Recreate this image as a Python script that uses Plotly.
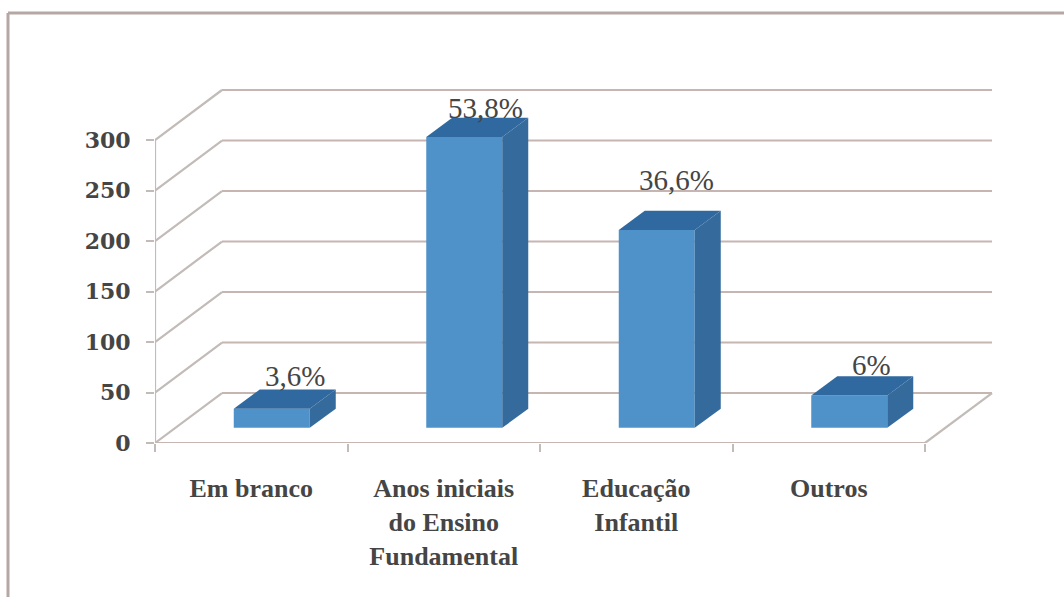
import plotly.graph_objects as go

# ---- data ----
categories = ["Em branco", "Anos iniciais<br>do Ensino<br>Fundamental", "Educação<br>Infantil", "Outros"]
values = [19, 288, 196, 32]
value_labels = ["3,6%", "53,8%", "36,6%", "6%"]
y_ticks = [0, 50, 100, 150, 200, 250, 300]

# ---- geometry in axis units ----
W, H = 1064, 597
L, R, T, B = 155, 995, 85, 443
X_PX = 192.5
Y_PX = 1.01
WALL_DX, WALL_DY = 67 / X_PX, 49.5
BAR_SHIFT, BAR_BASE = 20.5 / X_PX, 15
BAR_W = 76 / X_PX
BAR_DX, BAR_DY = 26 / X_PX, 19
LABEL_GAP = [33, 29, 50, 31]
LABEL_SHIFT = [23, 21, 20, 22]

GRID = "#c6b5b1"
DIAG = "#c2bbb7"
FRONT = "#4f92c9"
TOP = "#30699f"
SIDE = "#356b9c"
TXT = "#454545"
SERIF = "Liberation Serif"

n = len(categories)
centers = [i + 0.5 + BAR_SHIFT for i in range(n)]


def seg(x0, y0, x1, y1, color=GRID, width=2.2):
    return dict(type="line", xref="x", yref="y", x0=x0, y0=y0, x1=x1, y1=y1,
                line=dict(color=color, width=width), layer="below")


shapes = []
for t in y_ticks:
    shapes.append(seg(WALL_DX, t + WALL_DY, n + WALL_DX, t + WALL_DY))
    shapes.append(seg(0, t, WALL_DX, t + WALL_DY, DIAG))
shapes.append(seg(0, 0, n, 0))
shapes.append(seg(0, 0, 0, y_ticks[-1], DIAG))
shapes.append(seg(n, 0, n + WALL_DX, WALL_DY, DIAG))
# photographed page border
shapes.append(dict(type="line", xref="paper", yref="paper",
                   x0=(8 - L) / (R - L), x1=(W - L) / (R - L),
                   y0=(B - 13) / (B - T), y1=(B - 13) / (B - T),
                   line=dict(color="#b5a8a4", width=3)))
shapes.append(dict(type="line", xref="paper", yref="paper",
                   x0=(8 - L) / (R - L), x1=(8 - L) / (R - L),
                   y0=(B - 13) / (B - T), y1=(B - W) / (B - T),
                   line=dict(color="#b5a8a4", width=3)))

fig = go.Figure()
fig.add_trace(go.Bar(x=centers, y=values, base=[BAR_BASE] * n, width=BAR_W,
                     marker=dict(color=FRONT, line=dict(width=0)), hoverinfo="skip"))

for c, v in zip(centers, values):
    x0, x1 = c - BAR_W / 2, c + BAR_W / 2
    y0, y1 = BAR_BASE, BAR_BASE + v
    fig.add_trace(go.Scatter(x=[x0, x1, x1 + BAR_DX, x0 + BAR_DX, x0],
                             y=[y1, y1, y1 + BAR_DY, y1 + BAR_DY, y1],
                             mode="lines", fill="toself", fillcolor=TOP,
                             line=dict(width=0), hoverinfo="skip"))
    fig.add_trace(go.Scatter(x=[x1, x1 + BAR_DX, x1 + BAR_DX, x1, x1],
                             y=[y0, y0 + BAR_DY, y1 + BAR_DY, y1, y0],
                             mode="lines", fill="toself", fillcolor=SIDE,
                             line=dict(width=0), hoverinfo="skip"))

annotations = [
    dict(x=c + s / X_PX, y=BAR_BASE + v + g / Y_PX, text=t, showarrow=False,
         xanchor="center", yanchor="middle", font=dict(family=SERIF, size=29, color=TXT))
    for c, v, t, g, s in zip(centers, values, value_labels, LABEL_GAP, LABEL_SHIFT)
]

fig.update_layout(
    width=W, height=H, showlegend=False, barmode="overlay",
    margin=dict(l=L, r=W - R, t=T, b=H - B, pad=0),
    paper_bgcolor="white", plot_bgcolor="rgba(0,0,0,0)",
    shapes=shapes, annotations=annotations,
    xaxis=dict(range=[0, (R - L) / X_PX], tickvals=[i + 0.5 for i in range(n)],
               ticktext=categories, ticks="", showgrid=False, zeroline=False,
               showline=False, tickangle=0, ticklabelstandoff=27,
               tickfont=dict(family=SERIF, size=26, color=TXT, weight="bold"),
               minor=dict(tickvals=list(range(n + 1)), ticks="outside", ticklen=8,
                          tickwidth=2, tickcolor=DIAG, showgrid=False)),
    yaxis=dict(range=[0, (B - T) / Y_PX], tickvals=y_ticks, ticks="outside", ticklen=8,
               tickwidth=2, tickcolor=DIAG, showgrid=False, zeroline=False, showline=False,
               tickfont=dict(family="DejaVu Serif", size=22, color=TXT, weight="bold"),
               ticklabelstandoff=11),
)

fig.write_html("out.html", post_script="document.body.style.margin='0';",
               config={"displayModeBar": False})
